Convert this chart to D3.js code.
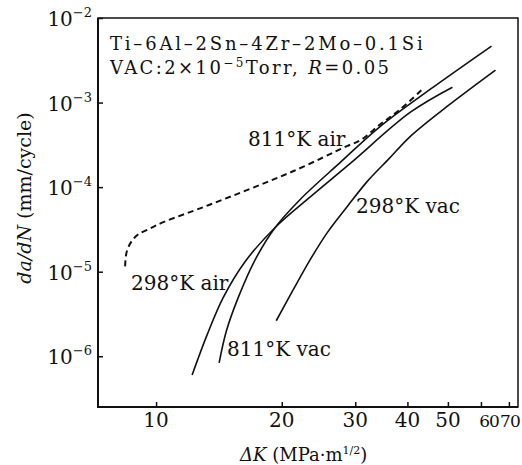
<!DOCTYPE html>
<html>
<head>
<meta charset="utf-8">
<script src="https://cdn.jsdelivr.net/npm/d3@7"></script>
<style>
body { margin: 0; background: #fff; }
svg { display: block; }
text { font-family: "DejaVu Serif", serif; fill: #111; }
</style>
</head>
<body>
<div id="graph"></div>
<script>
// ΔK in MPa·m^1/2, da/dN in mm/cycle
var air298_dk   = [12.2, 13.25, 14.48, 16.35, 19.29, 23.02, 29.19, 40.66, 51.27];
var air298_rate = [6.0e-7, 1.79e-6, 4.93e-6, 1.32e-5, 3.33e-5, 7.15e-5, 1.91e-4, 7.69e-4, 1.52e-3];

var vac811_dk   = [14.16, 14.72, 15.73, 17.28, 19.29, 22.14, 27.62, 34.45, 45.40, 63.60];
var vac811_rate = [8.35e-7, 1.95e-6, 4.93e-6, 1.39e-5, 3.33e-5, 7.15e-5, 1.96e-4, 5.24e-4, 1.44e-3, 4.66e-3];

var vac298_dk   = [19.40, 21.31, 23.40, 25.71, 28.71, 32.06, 36.01, 40.66, 49.86, 65.01];
var vac298_rate = [2.63e-6, 6.13e-6, 1.39e-5, 2.90e-5, 5.90e-5, 1.17e-4, 2.13e-4, 3.99e-4, 9.05e-4, 2.42e-3];

var air811_dk   = [8.43, 8.50, 8.72, 9.05, 9.55, 10.41, 13.48, 21.35, 28.66, 30.85, 34.45, 38.47, 43.45];
var air811_rate = [1.157e-5, 1.70e-5, 2.25e-5, 2.75e-5, 3.15e-5, 3.85e-5, 6.23e-5, 1.55e-4, 3.06e-4, 3.58e-4, 5.54e-4, 8.34e-4, 1.44e-3];

var x_ticks = [10, 20, 30, 40, 50, 60, 70];
var y_ticks = [1e-2, 1e-3, 1e-4, 1e-5, 1e-6];
var y_exps  = ["−2", "−3", "−4", "−5", "−6"];

var graph_width = 522, graph_height = 465;
var plot_left = 98, plot_right = 518, plot_top = 18, plot_bottom = 407;

var graph = d3.select('#graph')
	.append('svg')
	.attr('width', graph_width)
	.attr('height', graph_height);

var x = d3.scaleLog().domain([7.26, 73.6]).range([plot_left, plot_right]);
var y = d3.scaleLog().domain([Math.pow(10, -6.6), 1e-2]).range([plot_bottom, plot_top]);

// frame
graph.append('rect')
	.attr('x', plot_left).attr('y', plot_top)
	.attr('width', plot_right - plot_left).attr('height', plot_bottom - plot_top)
	.attr('style', 'fill:none;stroke:#111;stroke-width:1.5');
graph.append('path')
	.attr('d', 'M' + plot_left + ',' + plot_top + 'V' + plot_bottom + 'H' + plot_right)
	.attr('style', 'fill:none;stroke:#111;stroke-width:2');

// inward ticks
graph.append('g')
	.attr('transform', 'translate(0,' + plot_bottom + ')')
	.call(d3.axisBottom(x).tickValues(x_ticks).tickSize(-5).tickFormat(''));
graph.append('g')
	.attr('transform', 'translate(' + plot_left + ',0)')
	.call(d3.axisLeft(y).tickValues(y_ticks).tickSize(-5).tickFormat(''));
graph.selectAll('.domain').remove();
graph.selectAll('.tick line').attr('stroke', '#111').attr('stroke-width', 1.5);

// x tick labels (60 and 70 squeezed together like the original)
for (var i = 0; i < x_ticks.length; i++)
{
	var t = graph.append('text')
		.attr('y', 427)
		.attr('font-size', 20)
		.attr('text-anchor', 'middle')
		.attr('x', x(x_ticks[i]))
		.text(x_ticks[i]);
	if (x_ticks[i] == 60)
	{
		t.attr('x', x(60) + 8).attr('font-size', 17).attr('letter-spacing', -1);
	}
	else if (x_ticks[i] == 70)
	{
		t.attr('x', x(70) + 1).attr('font-size', 17).attr('letter-spacing', -1);
	}
}

// y tick labels 10^-n
for (var i = 0; i < y_ticks.length; i++)
{
	var t = graph.append('text')
		.attr('x', 92)
		.attr('y', y(y_ticks[i]) + 8)
		.attr('font-size', 20)
		.attr('text-anchor', 'end');
	t.append('tspan').text('10');
	t.append('tspan').attr('dy', -9).attr('font-size', 13).text(y_exps[i]);
}

// axis titles
var xt = graph.append('text')
	.attr('x', 240).attr('y', 461)
	.attr('font-size', 18);
xt.append('tspan').attr('font-style', 'italic').text('ΔK');
xt.append('tspan').text(' (MPa·m');
xt.append('tspan').attr('dy', -7).attr('font-size', 11).text('1/2');
xt.append('tspan').attr('dy', 7).text(')');

var yt = graph.append('text')
	.attr('transform', 'translate(31,198) rotate(-90)')
	.attr('text-anchor', 'middle')
	.attr('font-size', 19);
yt.append('tspan').attr('font-style', 'italic').text('da/dN');
yt.append('tspan').text(' (mm/cycle)');

// curves
var line = d3.line().curve(d3.curveCatmullRom.alpha(0.5));
function pts(dk, rate)
{
	var p = [];
	for (var i = 0; i < dk.length; i++)
	{
		p.push([x(dk[i]), y(rate[i])]);
	}
	return p;
}
var solid = [[air298_dk, air298_rate], [vac811_dk, vac811_rate], [vac298_dk, vac298_rate]];
for (var i = 0; i < solid.length; i++)
{
	graph.append('path')
		.attr('d', line(pts(solid[i][0], solid[i][1])))
		.attr('style', 'fill:none;stroke:#111;stroke-width:1.6');
}
graph.append('path')
	.attr('d', line(pts(air811_dk, air811_rate)))
	.attr('style', 'fill:none;stroke:#111;stroke-width:2;stroke-dasharray:6,4');

// annotations
graph.append('text').attr('x', 110).attr('y', 50).attr('font-size', 18)
	.attr('letter-spacing', 2.8)
	.text('Ti–6Al–2Sn–4Zr–2Mo–0.1Si');
var l2 = graph.append('text').attr('x', 110).attr('y', 74).attr('font-size', 18)
	.attr('letter-spacing', 2.4);
l2.append('tspan').text('VAC:2×10');
l2.append('tspan').attr('dy', -7).attr('font-size', 12).text('−5');
l2.append('tspan').attr('dy', 7).text('Torr, ');
l2.append('tspan').attr('font-style', 'italic').text('R');
l2.append('tspan').text('=0.05');

graph.append('text').attr('x', 248).attr('y', 146).attr('font-size', 20).text('811°K air');
graph.append('text').attr('x', 356).attr('y', 213).attr('font-size', 20).text('298°K vac');
graph.append('text').attr('x', 131).attr('y', 290).attr('font-size', 20).text('298°K air');
graph.append('text').attr('x', 227).attr('y', 356).attr('font-size', 20).text('811°K vac');
</script>
</body>
</html>
